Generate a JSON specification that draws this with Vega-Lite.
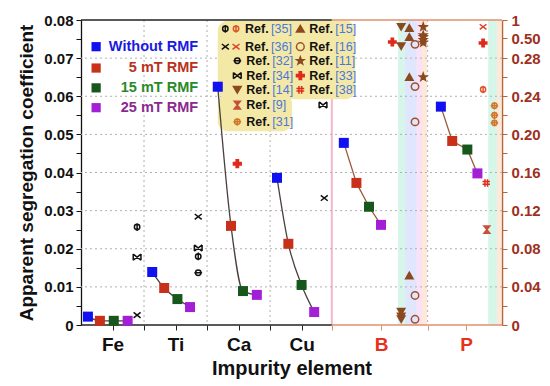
{
  "$schema": "https://vega.github.io/schema/vega-lite/v6.json",
  "width": 421,
  "height": 305,
  "autosize": {"type": "none"},
  "padding": {"left": 81, "top": 20, "right": 48, "bottom": 61},
  "config": {
    "view": {"stroke": null},
    "font": "Liberation Sans"
  },
  "datasets": {
    "sL": [
      {"el": "Fe", "pos": 0.61, "v": 0.0022, "rmf": "0"},
      {"el": "Fe", "pos": 0.80, "v": 0.0011, "rmf": "5"},
      {"el": "Fe", "pos": 1.02, "v": 0.0011, "rmf": "15"},
      {"el": "Fe", "pos": 1.24, "v": 0.0011, "rmf": "25"},
      {"el": "Ti", "pos": 1.63, "v": 0.0139, "rmf": "0"},
      {"el": "Ti", "pos": 1.82, "v": 0.0097, "rmf": "5"},
      {"el": "Ti", "pos": 2.03, "v": 0.0068, "rmf": "15"},
      {"el": "Ti", "pos": 2.23, "v": 0.0047, "rmf": "25"},
      {"el": "Ca", "pos": 2.67, "v": 0.0625, "rmf": "0"},
      {"el": "Ca", "pos": 2.88, "v": 0.026, "rmf": "5"},
      {"el": "Ca", "pos": 3.07, "v": 0.0089, "rmf": "15"},
      {"el": "Ca", "pos": 3.29, "v": 0.0079, "rmf": "25"},
      {"el": "Cu", "pos": 3.61, "v": 0.0386, "rmf": "0"},
      {"el": "Cu", "pos": 3.79, "v": 0.0213, "rmf": "5"},
      {"el": "Cu", "pos": 4.00, "v": 0.0105, "rmf": "15"},
      {"el": "Cu", "pos": 4.20, "v": 0.0034, "rmf": "25"}
    ],
    "sR": [
      {"el": "B", "pos": 4.67, "v": 0.191, "rmf": "0"},
      {"el": "B", "pos": 4.87, "v": 0.149, "rmf": "5"},
      {"el": "B", "pos": 5.07, "v": 0.124, "rmf": "15"},
      {"el": "B", "pos": 5.26, "v": 0.105, "rmf": "25"},
      {"el": "P", "pos": 6.21, "v": 0.229, "rmf": "0"},
      {"el": "P", "pos": 6.39, "v": 0.193, "rmf": "5"},
      {"el": "P", "pos": 6.63, "v": 0.184, "rmf": "15"},
      {"el": "P", "pos": 6.79, "v": 0.159, "rmf": "25"}
    ],
    "rL": [
      {"m": "35k", "pos": 1.39, "v": 0.0257},
      {"m": "34k", "pos": 1.39, "v": 0.0178},
      {"m": "36k", "pos": 1.39, "v": 0.0026},
      {"m": "36k", "pos": 2.36, "v": 0.0284},
      {"m": "34k", "pos": 2.36, "v": 0.0202},
      {"m": "35k", "pos": 2.36, "v": 0.018},
      {"m": "32k", "pos": 2.36, "v": 0.0137},
      {"m": "33", "pos": 2.98, "v": 0.0423},
      {"m": "36k", "pos": 4.36, "v": 0.0333},
      {"m": "34k", "pos": 4.34, "v": 0.0577}
    ],
    "rR": [
      {"m": "14", "pos": 5.58, "v": 0.81},
      {"m": "15", "pos": 5.71, "v": 0.78},
      {"m": "15", "pos": 5.71, "v": 0.53},
      {"m": "33", "pos": 5.44, "v": 0.456},
      {"m": "14", "pos": 5.58, "v": 0.41},
      {"m": "16", "pos": 5.80, "v": 0.43},
      {"m": "11", "pos": 5.93, "v": 0.81},
      {"m": "11", "pos": 5.93, "v": 0.58},
      {"m": "11", "pos": 5.93, "v": 0.53},
      {"m": "11", "pos": 5.93, "v": 0.48},
      {"m": "11", "pos": 5.93, "v": 0.45},
      {"m": "15", "pos": 5.71, "v": 0.26},
      {"m": "11", "pos": 5.93, "v": 0.26},
      {"m": "16", "pos": 5.80, "v": 0.25},
      {"m": "16", "pos": 5.80, "v": 0.213},
      {"m": "15", "pos": 5.71, "v": 0.052},
      {"m": "16", "pos": 5.80, "v": 0.031},
      {"m": "14", "pos": 5.58, "v": 0.014},
      {"m": "14", "pos": 5.58, "v": 0.009},
      {"m": "14", "pos": 5.58, "v": 0.006},
      {"m": "16", "pos": 5.80, "v": 0.006},
      {"m": "36r", "pos": 6.88, "v": 0.81},
      {"m": "33", "pos": 6.88, "v": 0.445},
      {"m": "35r", "pos": 6.88, "v": 0.247},
      {"m": "31", "pos": 7.06, "v": 0.230},
      {"m": "31", "pos": 7.06, "v": 0.220},
      {"m": "31", "pos": 7.06, "v": 0.212},
      {"m": "38", "pos": 6.93, "v": 0.149},
      {"m": "9", "pos": 6.94, "v": 0.10}
    ],
    "bands": [
      {"b": "g", "pos": 5.53, "pos2": 5.64},
      {"b": "bl", "pos": 5.64, "pos2": 5.83},
      {"b": "pk", "pos": 5.83, "pos2": 5.91},
      {"b": "or", "pos": 5.91, "pos2": 5.99},
      {"b": "g", "pos": 6.96, "pos2": 7.10},
      {"b": "or", "pos": 7.10, "pos2": 7.18}
    ],
    "leg": [
      {"rmf": "0", "pos": 0.74, "v": 0.0730, "lab": "Without RMF"},
      {"rmf": "5", "pos": 0.74, "v": 0.0674, "lab": "5 mT RMF"},
      {"rmf": "15", "pos": 0.74, "v": 0.0622, "lab": "15 mT RMF"},
      {"rmf": "25", "pos": 0.74, "v": 0.0570, "lab": "25 mT RMF"}
    ],
    "rlegK": [
      {"m": "35k", "pos": 2.79, "v": 0.0777},
      {"m": "36k", "pos": 2.79, "v": 0.0730}
    ],
    "rleg": [
      {"m": "35r", "pos": 2.96, "v": 0.0777, "lab": "[35]"},
      {"m": "36r", "pos": 2.96, "v": 0.0730, "lab": "[36]"},
      {"m": "32k", "pos": 2.98, "v": 0.0693, "lab": "[32]"},
      {"m": "34k", "pos": 2.98, "v": 0.0654, "lab": "[34]"},
      {"m": "14", "pos": 2.98, "v": 0.0617, "lab": "[14]"},
      {"m": "9", "pos": 2.98, "v": 0.0577, "lab": "[9]"},
      {"m": "31", "pos": 2.98, "v": 0.0533, "lab": "[31]"},
      {"m": "15", "pos": 3.98, "v": 0.0777, "lab": "[15]"},
      {"m": "16", "pos": 3.98, "v": 0.0730, "lab": "[16]"},
      {"m": "11", "pos": 3.98, "v": 0.0693, "lab": "[11]"},
      {"m": "33", "pos": 3.98, "v": 0.0654, "lab": "[33]"},
      {"m": "38", "pos": 3.98, "v": 0.0617, "lab": "[38]"}
    ]
  },
  "resolve": {"scale": {"y": "independent"}},
  "layer": [
    {
      "layer": [
        {
          "data": {"name": "bands"},
          "mark": {"type": "rect", "opacity": 0.6},
          "encoding": {
            "x": {"field": "pos", "type": "quantitative", "scale": {"domain": [0.5, 7.18], "nice": false, "zero": false}, "title": "Impurity element", "axis": {"values": [1, 1.5, 2, 2.5, 3, 3.5, 4, 4.48, 5.26, 6, 6.61], "labelExpr": "datum.value==1 ? 'Fe' : datum.value==2 ? 'Ti' : datum.value==3 ? 'Ca' : datum.value==4 ? 'Cu' : datum.value==5.26 ? 'B' : datum.value==6.61 ? 'P' : ''", "grid": false, "domain": false, "tickSize": 5, "tickColor": {"condition": {"test": "datum.value > 4.4", "value": "#e0906e"}, "value": "#222"}, "labelColor": {"condition": {"test": "datum.value > 5", "value": "#e8301c"}, "value": "#111"}, "labelFontSize": 19, "labelFontWeight": "bold", "labelPadding": 5, "titleFontSize": 20, "titleFontWeight": "bold", "titleColor": "#111", "titlePadding": 4}},
            "x2": {"field": "pos2"},
            "fill": {"field": "b", "type": "nominal", "legend": null, "scale": {"domain": ["35k", "35r", "36k", "36r", "32k", "34k", "14", "9", "31", "15", "16", "11", "33", "38", "g", "bl", "pk", "or", "Without RMF", "5 mT RMF", "15 mT RMF", "25 mT RMF"], "range": ["transparent", "transparent", "transparent", "transparent", "transparent", "transparent", "#8b4a1e", "#c8503a", "transparent", "#8b4a1e", "transparent", "#8b4a1e", "#e02a1a", "transparent", "#bdf0dc", "#cdd6ff", "#f6cdf0", "#fbd9c0", "#1a1adf", "#b8321e", "#2a8a2a", "#8a2a90"]}}
          }
        },
        {
          "data": {"values": [{"pos": 4.48}]},
          "mark": {"type": "rule", "color": "#f4b8c8", "strokeWidth": 2},
          "encoding": {
            "x": {"field": "pos", "type": "quantitative", "scale": {"domain": [0.5, 7.18], "nice": false, "zero": false}, "title": "Impurity element", "axis": {"values": [1, 1.5, 2, 2.5, 3, 3.5, 4, 4.48, 5.26, 6, 6.61], "labelExpr": "datum.value==1 ? 'Fe' : datum.value==2 ? 'Ti' : datum.value==3 ? 'Ca' : datum.value==4 ? 'Cu' : datum.value==5.26 ? 'B' : datum.value==6.61 ? 'P' : ''", "grid": false, "domain": false, "tickSize": 5, "tickColor": {"condition": {"test": "datum.value > 4.4", "value": "#e0906e"}, "value": "#222"}, "labelColor": {"condition": {"test": "datum.value > 5", "value": "#e8301c"}, "value": "#111"}, "labelFontSize": 19, "labelFontWeight": "bold", "labelPadding": 5, "titleFontSize": 20, "titleFontWeight": "bold", "titleColor": "#111", "titlePadding": 4}}
          }
        },
        {
          "data": {"values": [{"pos": 1.5}, {"pos": 2.5}, {"pos": 3.5}, {"pos": 6.0}]},
          "mark": {"type": "rule", "color": "#b0b0b0", "strokeDash": [2, 3], "strokeWidth": 1},
          "encoding": {
            "x": {"field": "pos", "type": "quantitative", "scale": {"domain": [0.5, 7.18], "nice": false, "zero": false}, "title": "Impurity element", "axis": {"values": [1, 1.5, 2, 2.5, 3, 3.5, 4, 4.48, 5.26, 6, 6.61], "labelExpr": "datum.value==1 ? 'Fe' : datum.value==2 ? 'Ti' : datum.value==3 ? 'Ca' : datum.value==4 ? 'Cu' : datum.value==5.26 ? 'B' : datum.value==6.61 ? 'P' : ''", "grid": false, "domain": false, "tickSize": 5, "tickColor": {"condition": {"test": "datum.value > 4.4", "value": "#e0906e"}, "value": "#222"}, "labelColor": {"condition": {"test": "datum.value > 5", "value": "#e8301c"}, "value": "#111"}, "labelFontSize": 19, "labelFontWeight": "bold", "labelPadding": 5, "titleFontSize": 20, "titleFontWeight": "bold", "titleColor": "#111", "titlePadding": 4}}
          }
        },
        {
          "data": {"values": [{"v": 0.01}, {"v": 0.02}, {"v": 0.03}, {"v": 0.04}, {"v": 0.05}, {"v": 0.06}, {"v": 0.07}]},
          "mark": {"type": "rule", "color": "#b0b0b0", "strokeDash": [2, 3], "strokeWidth": 1},
          "encoding": {
            "y": {"field": "v", "type": "quantitative", "scale": {"domain": [0, 0.08], "nice": false, "zero": false}, "title": "Apparent segregation coefficient", "axis": {"values": [0, 0.005, 0.01, 0.015, 0.02, 0.025, 0.03, 0.035, 0.04, 0.045, 0.05, 0.055, 0.06, 0.065, 0.07, 0.075, 0.08], "labelExpr": "abs(datum.value*100-round(datum.value*100))>0.1 ? '' : (datum.value==0 ? '0' : format(datum.value, '.2f'))", "grid": false, "domainColor": "#111", "domainWidth": 1.3, "tickColor": "#111", "tickSize": 5, "labelPadding": 3, "labelFontSize": 15, "labelFontWeight": "bold", "labelColor": "#111", "titleFontSize": 19, "titleFontWeight": "bold", "titleColor": "#111", "titlePadding": 7}}
          }
        },
        {
          "data": {"values": [{"pos": 2.67, "pos2": 4.85, "v": 0.0592, "v2": 0.0798}, {"pos": 2.67, "pos2": 3.85, "v": 0.0508, "v2": 0.0605}]},
          "mark": {"type": "rect", "color": "#f4e8a6", "cornerRadius": 10},
          "encoding": {
            "x": {"field": "pos", "type": "quantitative", "scale": {"domain": [0.5, 7.18], "nice": false, "zero": false}, "title": "Impurity element", "axis": {"values": [1, 1.5, 2, 2.5, 3, 3.5, 4, 4.48, 5.26, 6, 6.61], "labelExpr": "datum.value==1 ? 'Fe' : datum.value==2 ? 'Ti' : datum.value==3 ? 'Ca' : datum.value==4 ? 'Cu' : datum.value==5.26 ? 'B' : datum.value==6.61 ? 'P' : ''", "grid": false, "domain": false, "tickSize": 5, "tickColor": {"condition": {"test": "datum.value > 4.4", "value": "#e0906e"}, "value": "#222"}, "labelColor": {"condition": {"test": "datum.value > 5", "value": "#e8301c"}, "value": "#111"}, "labelFontSize": 19, "labelFontWeight": "bold", "labelPadding": 5, "titleFontSize": 20, "titleFontWeight": "bold", "titleColor": "#111", "titlePadding": 4}},
            "x2": {"field": "pos2"},
            "y": {"field": "v", "type": "quantitative", "scale": {"domain": [0, 0.08], "nice": false, "zero": false}, "title": "Apparent segregation coefficient", "axis": {"values": [0, 0.005, 0.01, 0.015, 0.02, 0.025, 0.03, 0.035, 0.04, 0.045, 0.05, 0.055, 0.06, 0.065, 0.07, 0.075, 0.08], "labelExpr": "abs(datum.value*100-round(datum.value*100))>0.1 ? '' : (datum.value==0 ? '0' : format(datum.value, '.2f'))", "grid": false, "domainColor": "#111", "domainWidth": 1.3, "tickColor": "#111", "tickSize": 5, "labelPadding": 3, "labelFontSize": 15, "labelFontWeight": "bold", "labelColor": "#111", "titleFontSize": 19, "titleFontWeight": "bold", "titleColor": "#111", "titlePadding": 7}},
            "y2": {"field": "v2"}
          }
        },
        {
          "data": {"values": [{"pos": 0.5, "pos2": 4.48, "v": 0.08}, {"pos": 0.5, "pos2": 4.48, "v": 0}]},
          "mark": {"type": "rule", "color": "#222", "strokeWidth": 1.3},
          "encoding": {
            "x": {"field": "pos", "type": "quantitative", "scale": {"domain": [0.5, 7.18], "nice": false, "zero": false}, "title": "Impurity element", "axis": {"values": [1, 1.5, 2, 2.5, 3, 3.5, 4, 4.48, 5.26, 6, 6.61], "labelExpr": "datum.value==1 ? 'Fe' : datum.value==2 ? 'Ti' : datum.value==3 ? 'Ca' : datum.value==4 ? 'Cu' : datum.value==5.26 ? 'B' : datum.value==6.61 ? 'P' : ''", "grid": false, "domain": false, "tickSize": 5, "tickColor": {"condition": {"test": "datum.value > 4.4", "value": "#e0906e"}, "value": "#222"}, "labelColor": {"condition": {"test": "datum.value > 5", "value": "#e8301c"}, "value": "#111"}, "labelFontSize": 19, "labelFontWeight": "bold", "labelPadding": 5, "titleFontSize": 20, "titleFontWeight": "bold", "titleColor": "#111", "titlePadding": 4}},
            "x2": {"field": "pos2"},
            "y": {"field": "v", "type": "quantitative", "scale": {"domain": [0, 0.08], "nice": false, "zero": false}, "title": "Apparent segregation coefficient", "axis": {"values": [0, 0.005, 0.01, 0.015, 0.02, 0.025, 0.03, 0.035, 0.04, 0.045, 0.05, 0.055, 0.06, 0.065, 0.07, 0.075, 0.08], "labelExpr": "abs(datum.value*100-round(datum.value*100))>0.1 ? '' : (datum.value==0 ? '0' : format(datum.value, '.2f'))", "grid": false, "domainColor": "#111", "domainWidth": 1.3, "tickColor": "#111", "tickSize": 5, "labelPadding": 3, "labelFontSize": 15, "labelFontWeight": "bold", "labelColor": "#111", "titleFontSize": 19, "titleFontWeight": "bold", "titleColor": "#111", "titlePadding": 7}}
          }
        },
        {
          "data": {"values": [{"pos": 4.48, "pos2": 7.18, "v": 0.08}, {"pos": 4.48, "pos2": 7.18, "v": 0}]},
          "mark": {"type": "rule", "color": "#e0906e", "strokeWidth": 1.5},
          "encoding": {
            "x": {"field": "pos", "type": "quantitative", "scale": {"domain": [0.5, 7.18], "nice": false, "zero": false}, "title": "Impurity element", "axis": {"values": [1, 1.5, 2, 2.5, 3, 3.5, 4, 4.48, 5.26, 6, 6.61], "labelExpr": "datum.value==1 ? 'Fe' : datum.value==2 ? 'Ti' : datum.value==3 ? 'Ca' : datum.value==4 ? 'Cu' : datum.value==5.26 ? 'B' : datum.value==6.61 ? 'P' : ''", "grid": false, "domain": false, "tickSize": 5, "tickColor": {"condition": {"test": "datum.value > 4.4", "value": "#e0906e"}, "value": "#222"}, "labelColor": {"condition": {"test": "datum.value > 5", "value": "#e8301c"}, "value": "#111"}, "labelFontSize": 19, "labelFontWeight": "bold", "labelPadding": 5, "titleFontSize": 20, "titleFontWeight": "bold", "titleColor": "#111", "titlePadding": 4}},
            "x2": {"field": "pos2"},
            "y": {"field": "v", "type": "quantitative", "scale": {"domain": [0, 0.08], "nice": false, "zero": false}, "title": "Apparent segregation coefficient", "axis": {"values": [0, 0.005, 0.01, 0.015, 0.02, 0.025, 0.03, 0.035, 0.04, 0.045, 0.05, 0.055, 0.06, 0.065, 0.07, 0.075, 0.08], "labelExpr": "abs(datum.value*100-round(datum.value*100))>0.1 ? '' : (datum.value==0 ? '0' : format(datum.value, '.2f'))", "grid": false, "domainColor": "#111", "domainWidth": 1.3, "tickColor": "#111", "tickSize": 5, "labelPadding": 3, "labelFontSize": 15, "labelFontWeight": "bold", "labelColor": "#111", "titleFontSize": 19, "titleFontWeight": "bold", "titleColor": "#111", "titlePadding": 7}}
          }
        },
        {
          "data": {"name": "sL"},
          "mark": {"type": "line", "color": "#4a4040", "strokeWidth": 1.3, "interpolate": "monotone"},
          "encoding": {
            "x": {"field": "pos", "type": "quantitative", "scale": {"domain": [0.5, 7.18], "nice": false, "zero": false}, "title": "Impurity element", "axis": {"values": [1, 1.5, 2, 2.5, 3, 3.5, 4, 4.48, 5.26, 6, 6.61], "labelExpr": "datum.value==1 ? 'Fe' : datum.value==2 ? 'Ti' : datum.value==3 ? 'Ca' : datum.value==4 ? 'Cu' : datum.value==5.26 ? 'B' : datum.value==6.61 ? 'P' : ''", "grid": false, "domain": false, "tickSize": 5, "tickColor": {"condition": {"test": "datum.value > 4.4", "value": "#e0906e"}, "value": "#222"}, "labelColor": {"condition": {"test": "datum.value > 5", "value": "#e8301c"}, "value": "#111"}, "labelFontSize": 19, "labelFontWeight": "bold", "labelPadding": 5, "titleFontSize": 20, "titleFontWeight": "bold", "titleColor": "#111", "titlePadding": 4}},
            "y": {"field": "v", "type": "quantitative", "scale": {"domain": [0, 0.08], "nice": false, "zero": false}, "title": "Apparent segregation coefficient", "axis": {"values": [0, 0.005, 0.01, 0.015, 0.02, 0.025, 0.03, 0.035, 0.04, 0.045, 0.05, 0.055, 0.06, 0.065, 0.07, 0.075, 0.08], "labelExpr": "abs(datum.value*100-round(datum.value*100))>0.1 ? '' : (datum.value==0 ? '0' : format(datum.value, '.2f'))", "grid": false, "domainColor": "#111", "domainWidth": 1.3, "tickColor": "#111", "tickSize": 5, "labelPadding": 3, "labelFontSize": 15, "labelFontWeight": "bold", "labelColor": "#111", "titleFontSize": 19, "titleFontWeight": "bold", "titleColor": "#111", "titlePadding": 7}},
            "detail": {"field": "el", "type": "nominal"}
          }
        },
        {
          "data": {"name": "sL"},
          "mark": {"type": "square", "filled": true, "size": 100, "opacity": 1},
          "encoding": {
            "x": {"field": "pos", "type": "quantitative", "scale": {"domain": [0.5, 7.18], "nice": false, "zero": false}, "title": "Impurity element", "axis": {"values": [1, 1.5, 2, 2.5, 3, 3.5, 4, 4.48, 5.26, 6, 6.61], "labelExpr": "datum.value==1 ? 'Fe' : datum.value==2 ? 'Ti' : datum.value==3 ? 'Ca' : datum.value==4 ? 'Cu' : datum.value==5.26 ? 'B' : datum.value==6.61 ? 'P' : ''", "grid": false, "domain": false, "tickSize": 5, "tickColor": {"condition": {"test": "datum.value > 4.4", "value": "#e0906e"}, "value": "#222"}, "labelColor": {"condition": {"test": "datum.value > 5", "value": "#e8301c"}, "value": "#111"}, "labelFontSize": 19, "labelFontWeight": "bold", "labelPadding": 5, "titleFontSize": 20, "titleFontWeight": "bold", "titleColor": "#111", "titlePadding": 4}},
            "y": {"field": "v", "type": "quantitative", "scale": {"domain": [0, 0.08], "nice": false, "zero": false}, "title": "Apparent segregation coefficient", "axis": {"values": [0, 0.005, 0.01, 0.015, 0.02, 0.025, 0.03, 0.035, 0.04, 0.045, 0.05, 0.055, 0.06, 0.065, 0.07, 0.075, 0.08], "labelExpr": "abs(datum.value*100-round(datum.value*100))>0.1 ? '' : (datum.value==0 ? '0' : format(datum.value, '.2f'))", "grid": false, "domainColor": "#111", "domainWidth": 1.3, "tickColor": "#111", "tickSize": 5, "labelPadding": 3, "labelFontSize": 15, "labelFontWeight": "bold", "labelColor": "#111", "titleFontSize": 19, "titleFontWeight": "bold", "titleColor": "#111", "titlePadding": 7}},
            "color": {"field": "rmf", "type": "nominal", "legend": null, "scale": {"domain": ["0", "5", "15", "25"], "range": ["#1010f0", "#c8301a", "#17571b", "#a31fd6"]}}
          }
        },
        {
          "data": {"name": "rL"},
          "mark": {"type": "point", "filled": false, "size": 60, "strokeWidth": 1.5, "opacity": 1},
          "encoding": {
            "x": {"field": "pos", "type": "quantitative", "scale": {"domain": [0.5, 7.18], "nice": false, "zero": false}, "title": "Impurity element", "axis": {"values": [1, 1.5, 2, 2.5, 3, 3.5, 4, 4.48, 5.26, 6, 6.61], "labelExpr": "datum.value==1 ? 'Fe' : datum.value==2 ? 'Ti' : datum.value==3 ? 'Ca' : datum.value==4 ? 'Cu' : datum.value==5.26 ? 'B' : datum.value==6.61 ? 'P' : ''", "grid": false, "domain": false, "tickSize": 5, "tickColor": {"condition": {"test": "datum.value > 4.4", "value": "#e0906e"}, "value": "#222"}, "labelColor": {"condition": {"test": "datum.value > 5", "value": "#e8301c"}, "value": "#111"}, "labelFontSize": 19, "labelFontWeight": "bold", "labelPadding": 5, "titleFontSize": 20, "titleFontWeight": "bold", "titleColor": "#111", "titlePadding": 4}},
            "y": {"field": "v", "type": "quantitative", "scale": {"domain": [0, 0.08], "nice": false, "zero": false}, "title": "Apparent segregation coefficient", "axis": {"values": [0, 0.005, 0.01, 0.015, 0.02, 0.025, 0.03, 0.035, 0.04, 0.045, 0.05, 0.055, 0.06, 0.065, 0.07, 0.075, 0.08], "labelExpr": "abs(datum.value*100-round(datum.value*100))>0.1 ? '' : (datum.value==0 ? '0' : format(datum.value, '.2f'))", "grid": false, "domainColor": "#111", "domainWidth": 1.3, "tickColor": "#111", "tickSize": 5, "labelPadding": 3, "labelFontSize": 15, "labelFontWeight": "bold", "labelColor": "#111", "titleFontSize": 19, "titleFontWeight": "bold", "titleColor": "#111", "titlePadding": 7}},
            "shape": {"field": "m", "type": "nominal", "legend": null, "scale": {"domain": ["35k", "35r", "36k", "36r", "32k", "34k", "14", "9", "31", "15", "16", "11", "33", "38"], "range": ["M-0.7,0A0.7,0.7 0 1,1 0.7,0A0.7,0.7 0 1,1 -0.7,0ZM0,-1L0,1", "M-0.7,0A0.7,0.7 0 1,1 0.7,0A0.7,0.7 0 1,1 -0.7,0ZM0,-1L0,1", "M-0.9,-0.7L0.9,0.7M-0.9,0.7L0.9,-0.7", "M-0.9,-0.7L0.9,0.7M-0.9,0.7L0.9,-0.7", "M-0.7,0A0.7,0.7 0 1,1 0.7,0A0.7,0.7 0 1,1 -0.7,0ZM-1,0L1,0", "M-1,-0.8L1,0.8M-1,0.8L1,-0.8M-1,-0.8L-1,0.8M1,-0.8L1,0.8", "triangle-down", "M-0.8,-1L0.8,-1L0,0ZM-0.8,1L0.8,1L0,0Z", "M-0.7,0A0.7,0.7 0 1,1 0.7,0A0.7,0.7 0 1,1 -0.7,0ZM-1,0L1,0M0,-1L0,1", "triangle-up", "circle", "M0,-1L0.235,-0.324L0.951,-0.309L0.38,0.124L0.588,0.809L0,0.4L-0.588,0.809L-0.38,0.124L-0.951,-0.309L-0.235,-0.324Z", "M-0.3,-1L0.3,-1L0.3,-0.3L1,-0.3L1,0.3L0.3,0.3L0.3,1L-0.3,1L-0.3,0.3L-1,0.3L-1,-0.3L-0.3,-0.3Z", "M-1,-0.35L1,-0.35M-1,0.35L1,0.35M-0.35,-1L-0.35,1M0.35,-1L0.35,1"]}},
            "stroke": {"field": "m", "type": "nominal", "legend": null, "scale": {"domain": ["35k", "35r", "36k", "36r", "32k", "34k", "14", "9", "31", "15", "16", "11", "33", "38"], "range": ["#111", "#e0552a", "#111", "#e0402a", "#111", "#111", "#8b4a1e", "#c8503a", "#d2782a", "#8b4a1e", "#a0522d", "#8b4a1e", "#e02a1a", "#e02a1a"]}},
            "fill": {"field": "m", "type": "nominal", "legend": null, "scale": {"domain": ["35k", "35r", "36k", "36r", "32k", "34k", "14", "9", "31", "15", "16", "11", "33", "38", "g", "bl", "pk", "or", "Without RMF", "5 mT RMF", "15 mT RMF", "25 mT RMF"], "range": ["transparent", "transparent", "transparent", "transparent", "transparent", "transparent", "#8b4a1e", "#c8503a", "transparent", "#8b4a1e", "transparent", "#8b4a1e", "#e02a1a", "transparent", "#bdf0dc", "#cdd6ff", "#f6cdf0", "#fbd9c0", "#1a1adf", "#b8321e", "#2a8a2a", "#8a2a90"]}}
          }
        },
        {
          "data": {"name": "leg"},
          "mark": {"type": "square", "filled": true, "size": 85, "opacity": 1},
          "encoding": {
            "x": {"field": "pos", "type": "quantitative", "scale": {"domain": [0.5, 7.18], "nice": false, "zero": false}, "title": "Impurity element", "axis": {"values": [1, 1.5, 2, 2.5, 3, 3.5, 4, 4.48, 5.26, 6, 6.61], "labelExpr": "datum.value==1 ? 'Fe' : datum.value==2 ? 'Ti' : datum.value==3 ? 'Ca' : datum.value==4 ? 'Cu' : datum.value==5.26 ? 'B' : datum.value==6.61 ? 'P' : ''", "grid": false, "domain": false, "tickSize": 5, "tickColor": {"condition": {"test": "datum.value > 4.4", "value": "#e0906e"}, "value": "#222"}, "labelColor": {"condition": {"test": "datum.value > 5", "value": "#e8301c"}, "value": "#111"}, "labelFontSize": 19, "labelFontWeight": "bold", "labelPadding": 5, "titleFontSize": 20, "titleFontWeight": "bold", "titleColor": "#111", "titlePadding": 4}},
            "y": {"field": "v", "type": "quantitative", "scale": {"domain": [0, 0.08], "nice": false, "zero": false}, "title": "Apparent segregation coefficient", "axis": {"values": [0, 0.005, 0.01, 0.015, 0.02, 0.025, 0.03, 0.035, 0.04, 0.045, 0.05, 0.055, 0.06, 0.065, 0.07, 0.075, 0.08], "labelExpr": "abs(datum.value*100-round(datum.value*100))>0.1 ? '' : (datum.value==0 ? '0' : format(datum.value, '.2f'))", "grid": false, "domainColor": "#111", "domainWidth": 1.3, "tickColor": "#111", "tickSize": 5, "labelPadding": 3, "labelFontSize": 15, "labelFontWeight": "bold", "labelColor": "#111", "titleFontSize": 19, "titleFontWeight": "bold", "titleColor": "#111", "titlePadding": 7}},
            "color": {"field": "rmf", "type": "nominal", "legend": null, "scale": {"domain": ["0", "5", "15", "25"], "range": ["#1010f0", "#c8301a", "#17571b", "#a31fd6"]}}
          }
        },
        {
          "data": {"name": "leg"},
          "mark": {"type": "text", "align": "right", "baseline": "middle", "dx": 102, "fontSize": 14.5, "fontWeight": "bold"},
          "encoding": {
            "x": {"field": "pos", "type": "quantitative", "scale": {"domain": [0.5, 7.18], "nice": false, "zero": false}, "title": "Impurity element", "axis": {"values": [1, 1.5, 2, 2.5, 3, 3.5, 4, 4.48, 5.26, 6, 6.61], "labelExpr": "datum.value==1 ? 'Fe' : datum.value==2 ? 'Ti' : datum.value==3 ? 'Ca' : datum.value==4 ? 'Cu' : datum.value==5.26 ? 'B' : datum.value==6.61 ? 'P' : ''", "grid": false, "domain": false, "tickSize": 5, "tickColor": {"condition": {"test": "datum.value > 4.4", "value": "#e0906e"}, "value": "#222"}, "labelColor": {"condition": {"test": "datum.value > 5", "value": "#e8301c"}, "value": "#111"}, "labelFontSize": 19, "labelFontWeight": "bold", "labelPadding": 5, "titleFontSize": 20, "titleFontWeight": "bold", "titleColor": "#111", "titlePadding": 4}},
            "y": {"field": "v", "type": "quantitative", "scale": {"domain": [0, 0.08], "nice": false, "zero": false}, "title": "Apparent segregation coefficient", "axis": {"values": [0, 0.005, 0.01, 0.015, 0.02, 0.025, 0.03, 0.035, 0.04, 0.045, 0.05, 0.055, 0.06, 0.065, 0.07, 0.075, 0.08], "labelExpr": "abs(datum.value*100-round(datum.value*100))>0.1 ? '' : (datum.value==0 ? '0' : format(datum.value, '.2f'))", "grid": false, "domainColor": "#111", "domainWidth": 1.3, "tickColor": "#111", "tickSize": 5, "labelPadding": 3, "labelFontSize": 15, "labelFontWeight": "bold", "labelColor": "#111", "titleFontSize": 19, "titleFontWeight": "bold", "titleColor": "#111", "titlePadding": 7}},
            "text": {"field": "lab"},
            "fill": {"field": "lab", "type": "nominal", "legend": null, "scale": {"domain": ["35k", "35r", "36k", "36r", "32k", "34k", "14", "9", "31", "15", "16", "11", "33", "38", "g", "bl", "pk", "or", "Without RMF", "5 mT RMF", "15 mT RMF", "25 mT RMF"], "range": ["transparent", "transparent", "transparent", "transparent", "transparent", "transparent", "#8b4a1e", "#c8503a", "transparent", "#8b4a1e", "transparent", "#8b4a1e", "#e02a1a", "transparent", "#bdf0dc", "#cdd6ff", "#f6cdf0", "#fbd9c0", "#1a1adf", "#b8321e", "#2a8a2a", "#8a2a90"]}}
          }
        },
        {
          "data": {"name": "rlegK"},
          "mark": {"type": "point", "filled": false, "size": 60, "strokeWidth": 1.5, "opacity": 1},
          "encoding": {
            "x": {"field": "pos", "type": "quantitative", "scale": {"domain": [0.5, 7.18], "nice": false, "zero": false}, "title": "Impurity element", "axis": {"values": [1, 1.5, 2, 2.5, 3, 3.5, 4, 4.48, 5.26, 6, 6.61], "labelExpr": "datum.value==1 ? 'Fe' : datum.value==2 ? 'Ti' : datum.value==3 ? 'Ca' : datum.value==4 ? 'Cu' : datum.value==5.26 ? 'B' : datum.value==6.61 ? 'P' : ''", "grid": false, "domain": false, "tickSize": 5, "tickColor": {"condition": {"test": "datum.value > 4.4", "value": "#e0906e"}, "value": "#222"}, "labelColor": {"condition": {"test": "datum.value > 5", "value": "#e8301c"}, "value": "#111"}, "labelFontSize": 19, "labelFontWeight": "bold", "labelPadding": 5, "titleFontSize": 20, "titleFontWeight": "bold", "titleColor": "#111", "titlePadding": 4}},
            "y": {"field": "v", "type": "quantitative", "scale": {"domain": [0, 0.08], "nice": false, "zero": false}, "title": "Apparent segregation coefficient", "axis": {"values": [0, 0.005, 0.01, 0.015, 0.02, 0.025, 0.03, 0.035, 0.04, 0.045, 0.05, 0.055, 0.06, 0.065, 0.07, 0.075, 0.08], "labelExpr": "abs(datum.value*100-round(datum.value*100))>0.1 ? '' : (datum.value==0 ? '0' : format(datum.value, '.2f'))", "grid": false, "domainColor": "#111", "domainWidth": 1.3, "tickColor": "#111", "tickSize": 5, "labelPadding": 3, "labelFontSize": 15, "labelFontWeight": "bold", "labelColor": "#111", "titleFontSize": 19, "titleFontWeight": "bold", "titleColor": "#111", "titlePadding": 7}},
            "shape": {"field": "m", "type": "nominal", "legend": null, "scale": {"domain": ["35k", "35r", "36k", "36r", "32k", "34k", "14", "9", "31", "15", "16", "11", "33", "38"], "range": ["M-0.7,0A0.7,0.7 0 1,1 0.7,0A0.7,0.7 0 1,1 -0.7,0ZM0,-1L0,1", "M-0.7,0A0.7,0.7 0 1,1 0.7,0A0.7,0.7 0 1,1 -0.7,0ZM0,-1L0,1", "M-0.9,-0.7L0.9,0.7M-0.9,0.7L0.9,-0.7", "M-0.9,-0.7L0.9,0.7M-0.9,0.7L0.9,-0.7", "M-0.7,0A0.7,0.7 0 1,1 0.7,0A0.7,0.7 0 1,1 -0.7,0ZM-1,0L1,0", "M-1,-0.8L1,0.8M-1,0.8L1,-0.8M-1,-0.8L-1,0.8M1,-0.8L1,0.8", "triangle-down", "M-0.8,-1L0.8,-1L0,0ZM-0.8,1L0.8,1L0,0Z", "M-0.7,0A0.7,0.7 0 1,1 0.7,0A0.7,0.7 0 1,1 -0.7,0ZM-1,0L1,0M0,-1L0,1", "triangle-up", "circle", "M0,-1L0.235,-0.324L0.951,-0.309L0.38,0.124L0.588,0.809L0,0.4L-0.588,0.809L-0.38,0.124L-0.951,-0.309L-0.235,-0.324Z", "M-0.3,-1L0.3,-1L0.3,-0.3L1,-0.3L1,0.3L0.3,0.3L0.3,1L-0.3,1L-0.3,0.3L-1,0.3L-1,-0.3L-0.3,-0.3Z", "M-1,-0.35L1,-0.35M-1,0.35L1,0.35M-0.35,-1L-0.35,1M0.35,-1L0.35,1"]}},
            "stroke": {"field": "m", "type": "nominal", "legend": null, "scale": {"domain": ["35k", "35r", "36k", "36r", "32k", "34k", "14", "9", "31", "15", "16", "11", "33", "38"], "range": ["#111", "#e0552a", "#111", "#e0402a", "#111", "#111", "#8b4a1e", "#c8503a", "#d2782a", "#8b4a1e", "#a0522d", "#8b4a1e", "#e02a1a", "#e02a1a"]}},
            "fill": {"field": "m", "type": "nominal", "legend": null, "scale": {"domain": ["35k", "35r", "36k", "36r", "32k", "34k", "14", "9", "31", "15", "16", "11", "33", "38", "g", "bl", "pk", "or", "Without RMF", "5 mT RMF", "15 mT RMF", "25 mT RMF"], "range": ["transparent", "transparent", "transparent", "transparent", "transparent", "transparent", "#8b4a1e", "#c8503a", "transparent", "#8b4a1e", "transparent", "#8b4a1e", "#e02a1a", "transparent", "#bdf0dc", "#cdd6ff", "#f6cdf0", "#fbd9c0", "#1a1adf", "#b8321e", "#2a8a2a", "#8a2a90"]}}
          }
        },
        {
          "data": {"name": "rleg"},
          "mark": {"type": "point", "filled": false, "size": 60, "strokeWidth": 1.5, "opacity": 1},
          "encoding": {
            "x": {"field": "pos", "type": "quantitative", "scale": {"domain": [0.5, 7.18], "nice": false, "zero": false}, "title": "Impurity element", "axis": {"values": [1, 1.5, 2, 2.5, 3, 3.5, 4, 4.48, 5.26, 6, 6.61], "labelExpr": "datum.value==1 ? 'Fe' : datum.value==2 ? 'Ti' : datum.value==3 ? 'Ca' : datum.value==4 ? 'Cu' : datum.value==5.26 ? 'B' : datum.value==6.61 ? 'P' : ''", "grid": false, "domain": false, "tickSize": 5, "tickColor": {"condition": {"test": "datum.value > 4.4", "value": "#e0906e"}, "value": "#222"}, "labelColor": {"condition": {"test": "datum.value > 5", "value": "#e8301c"}, "value": "#111"}, "labelFontSize": 19, "labelFontWeight": "bold", "labelPadding": 5, "titleFontSize": 20, "titleFontWeight": "bold", "titleColor": "#111", "titlePadding": 4}},
            "y": {"field": "v", "type": "quantitative", "scale": {"domain": [0, 0.08], "nice": false, "zero": false}, "title": "Apparent segregation coefficient", "axis": {"values": [0, 0.005, 0.01, 0.015, 0.02, 0.025, 0.03, 0.035, 0.04, 0.045, 0.05, 0.055, 0.06, 0.065, 0.07, 0.075, 0.08], "labelExpr": "abs(datum.value*100-round(datum.value*100))>0.1 ? '' : (datum.value==0 ? '0' : format(datum.value, '.2f'))", "grid": false, "domainColor": "#111", "domainWidth": 1.3, "tickColor": "#111", "tickSize": 5, "labelPadding": 3, "labelFontSize": 15, "labelFontWeight": "bold", "labelColor": "#111", "titleFontSize": 19, "titleFontWeight": "bold", "titleColor": "#111", "titlePadding": 7}},
            "shape": {"field": "m", "type": "nominal", "legend": null, "scale": {"domain": ["35k", "35r", "36k", "36r", "32k", "34k", "14", "9", "31", "15", "16", "11", "33", "38"], "range": ["M-0.7,0A0.7,0.7 0 1,1 0.7,0A0.7,0.7 0 1,1 -0.7,0ZM0,-1L0,1", "M-0.7,0A0.7,0.7 0 1,1 0.7,0A0.7,0.7 0 1,1 -0.7,0ZM0,-1L0,1", "M-0.9,-0.7L0.9,0.7M-0.9,0.7L0.9,-0.7", "M-0.9,-0.7L0.9,0.7M-0.9,0.7L0.9,-0.7", "M-0.7,0A0.7,0.7 0 1,1 0.7,0A0.7,0.7 0 1,1 -0.7,0ZM-1,0L1,0", "M-1,-0.8L1,0.8M-1,0.8L1,-0.8M-1,-0.8L-1,0.8M1,-0.8L1,0.8", "triangle-down", "M-0.8,-1L0.8,-1L0,0ZM-0.8,1L0.8,1L0,0Z", "M-0.7,0A0.7,0.7 0 1,1 0.7,0A0.7,0.7 0 1,1 -0.7,0ZM-1,0L1,0M0,-1L0,1", "triangle-up", "circle", "M0,-1L0.235,-0.324L0.951,-0.309L0.38,0.124L0.588,0.809L0,0.4L-0.588,0.809L-0.38,0.124L-0.951,-0.309L-0.235,-0.324Z", "M-0.3,-1L0.3,-1L0.3,-0.3L1,-0.3L1,0.3L0.3,0.3L0.3,1L-0.3,1L-0.3,0.3L-1,0.3L-1,-0.3L-0.3,-0.3Z", "M-1,-0.35L1,-0.35M-1,0.35L1,0.35M-0.35,-1L-0.35,1M0.35,-1L0.35,1"]}},
            "stroke": {"field": "m", "type": "nominal", "legend": null, "scale": {"domain": ["35k", "35r", "36k", "36r", "32k", "34k", "14", "9", "31", "15", "16", "11", "33", "38"], "range": ["#111", "#e0552a", "#111", "#e0402a", "#111", "#111", "#8b4a1e", "#c8503a", "#d2782a", "#8b4a1e", "#a0522d", "#8b4a1e", "#e02a1a", "#e02a1a"]}},
            "fill": {"field": "m", "type": "nominal", "legend": null, "scale": {"domain": ["35k", "35r", "36k", "36r", "32k", "34k", "14", "9", "31", "15", "16", "11", "33", "38", "g", "bl", "pk", "or", "Without RMF", "5 mT RMF", "15 mT RMF", "25 mT RMF"], "range": ["transparent", "transparent", "transparent", "transparent", "transparent", "transparent", "#8b4a1e", "#c8503a", "transparent", "#8b4a1e", "transparent", "#8b4a1e", "#e02a1a", "transparent", "#bdf0dc", "#cdd6ff", "#f6cdf0", "#fbd9c0", "#1a1adf", "#b8321e", "#2a8a2a", "#8a2a90"]}}
          }
        },
        {
          "data": {"name": "rleg"},
          "mark": {"type": "text", "align": "left", "baseline": "middle", "dx": 9, "fontSize": 12.5, "fontWeight": "bold", "color": "#111"},
          "encoding": {
            "x": {"field": "pos", "type": "quantitative", "scale": {"domain": [0.5, 7.18], "nice": false, "zero": false}, "title": "Impurity element", "axis": {"values": [1, 1.5, 2, 2.5, 3, 3.5, 4, 4.48, 5.26, 6, 6.61], "labelExpr": "datum.value==1 ? 'Fe' : datum.value==2 ? 'Ti' : datum.value==3 ? 'Ca' : datum.value==4 ? 'Cu' : datum.value==5.26 ? 'B' : datum.value==6.61 ? 'P' : ''", "grid": false, "domain": false, "tickSize": 5, "tickColor": {"condition": {"test": "datum.value > 4.4", "value": "#e0906e"}, "value": "#222"}, "labelColor": {"condition": {"test": "datum.value > 5", "value": "#e8301c"}, "value": "#111"}, "labelFontSize": 19, "labelFontWeight": "bold", "labelPadding": 5, "titleFontSize": 20, "titleFontWeight": "bold", "titleColor": "#111", "titlePadding": 4}},
            "y": {"field": "v", "type": "quantitative", "scale": {"domain": [0, 0.08], "nice": false, "zero": false}, "title": "Apparent segregation coefficient", "axis": {"values": [0, 0.005, 0.01, 0.015, 0.02, 0.025, 0.03, 0.035, 0.04, 0.045, 0.05, 0.055, 0.06, 0.065, 0.07, 0.075, 0.08], "labelExpr": "abs(datum.value*100-round(datum.value*100))>0.1 ? '' : (datum.value==0 ? '0' : format(datum.value, '.2f'))", "grid": false, "domainColor": "#111", "domainWidth": 1.3, "tickColor": "#111", "tickSize": 5, "labelPadding": 3, "labelFontSize": 15, "labelFontWeight": "bold", "labelColor": "#111", "titleFontSize": 19, "titleFontWeight": "bold", "titleColor": "#111", "titlePadding": 7}},
            "text": {"value": "Ref."}
          }
        },
        {
          "data": {"name": "rleg"},
          "mark": {"type": "text", "align": "left", "baseline": "middle", "dx": 35, "fontSize": 12.5, "color": "#4a78d8"},
          "encoding": {
            "x": {"field": "pos", "type": "quantitative", "scale": {"domain": [0.5, 7.18], "nice": false, "zero": false}, "title": "Impurity element", "axis": {"values": [1, 1.5, 2, 2.5, 3, 3.5, 4, 4.48, 5.26, 6, 6.61], "labelExpr": "datum.value==1 ? 'Fe' : datum.value==2 ? 'Ti' : datum.value==3 ? 'Ca' : datum.value==4 ? 'Cu' : datum.value==5.26 ? 'B' : datum.value==6.61 ? 'P' : ''", "grid": false, "domain": false, "tickSize": 5, "tickColor": {"condition": {"test": "datum.value > 4.4", "value": "#e0906e"}, "value": "#222"}, "labelColor": {"condition": {"test": "datum.value > 5", "value": "#e8301c"}, "value": "#111"}, "labelFontSize": 19, "labelFontWeight": "bold", "labelPadding": 5, "titleFontSize": 20, "titleFontWeight": "bold", "titleColor": "#111", "titlePadding": 4}},
            "y": {"field": "v", "type": "quantitative", "scale": {"domain": [0, 0.08], "nice": false, "zero": false}, "title": "Apparent segregation coefficient", "axis": {"values": [0, 0.005, 0.01, 0.015, 0.02, 0.025, 0.03, 0.035, 0.04, 0.045, 0.05, 0.055, 0.06, 0.065, 0.07, 0.075, 0.08], "labelExpr": "abs(datum.value*100-round(datum.value*100))>0.1 ? '' : (datum.value==0 ? '0' : format(datum.value, '.2f'))", "grid": false, "domainColor": "#111", "domainWidth": 1.3, "tickColor": "#111", "tickSize": 5, "labelPadding": 3, "labelFontSize": 15, "labelFontWeight": "bold", "labelColor": "#111", "titleFontSize": 19, "titleFontWeight": "bold", "titleColor": "#111", "titlePadding": 7}},
            "text": {"field": "lab"}
          }
        }
      ]
    },
    {
      "layer": [
        {
          "data": {"name": "sR"},
          "mark": {"type": "line", "color": "#9a5a3a", "strokeWidth": 1.3},
          "encoding": {
            "x": {"field": "pos", "type": "quantitative", "scale": {"domain": [0.5, 7.18], "nice": false, "zero": false}, "title": "Impurity element", "axis": {"values": [1, 1.5, 2, 2.5, 3, 3.5, 4, 4.48, 5.26, 6, 6.61], "labelExpr": "datum.value==1 ? 'Fe' : datum.value==2 ? 'Ti' : datum.value==3 ? 'Ca' : datum.value==4 ? 'Cu' : datum.value==5.26 ? 'B' : datum.value==6.61 ? 'P' : ''", "grid": false, "domain": false, "tickSize": 5, "tickColor": {"condition": {"test": "datum.value > 4.4", "value": "#e0906e"}, "value": "#222"}, "labelColor": {"condition": {"test": "datum.value > 5", "value": "#e8301c"}, "value": "#111"}, "labelFontSize": 19, "labelFontWeight": "bold", "labelPadding": 5, "titleFontSize": 20, "titleFontWeight": "bold", "titleColor": "#111", "titlePadding": 4}},
            "y": {"field": "v", "type": "quantitative", "scale": {"domain": [0, 0.28, 0.5, 1], "range": [305, 38, 18, 0], "nice": false, "zero": false}, "axis": {"orient": "right", "title": null, "values": [0, 0.02, 0.04, 0.06, 0.08, 0.1, 0.12, 0.14, 0.16, 0.18, 0.2, 0.22, 0.24, 0.26, 0.28, 0.5, 1], "labelExpr": "datum.value==1 ? '1' : datum.value==0 ? '0' : datum.value==0.5 ? '0.50' : (round(datum.value*100)%4 != 0 ? '' : format(datum.value, '.2f'))", "grid": false, "domainColor": "#b5653a", "domainWidth": 1.5, "tickColor": "#b5653a", "tickSize": 5, "labelPadding": 4, "labelFontSize": 15, "labelFontWeight": "bold", "labelColor": "#a0301e"}},
            "detail": {"field": "el", "type": "nominal"}
          }
        },
        {
          "data": {"name": "sR"},
          "mark": {"type": "square", "filled": true, "size": 100, "opacity": 1},
          "encoding": {
            "x": {"field": "pos", "type": "quantitative", "scale": {"domain": [0.5, 7.18], "nice": false, "zero": false}, "title": "Impurity element", "axis": {"values": [1, 1.5, 2, 2.5, 3, 3.5, 4, 4.48, 5.26, 6, 6.61], "labelExpr": "datum.value==1 ? 'Fe' : datum.value==2 ? 'Ti' : datum.value==3 ? 'Ca' : datum.value==4 ? 'Cu' : datum.value==5.26 ? 'B' : datum.value==6.61 ? 'P' : ''", "grid": false, "domain": false, "tickSize": 5, "tickColor": {"condition": {"test": "datum.value > 4.4", "value": "#e0906e"}, "value": "#222"}, "labelColor": {"condition": {"test": "datum.value > 5", "value": "#e8301c"}, "value": "#111"}, "labelFontSize": 19, "labelFontWeight": "bold", "labelPadding": 5, "titleFontSize": 20, "titleFontWeight": "bold", "titleColor": "#111", "titlePadding": 4}},
            "y": {"field": "v", "type": "quantitative", "scale": {"domain": [0, 0.28, 0.5, 1], "range": [305, 38, 18, 0], "nice": false, "zero": false}, "axis": {"orient": "right", "title": null, "values": [0, 0.02, 0.04, 0.06, 0.08, 0.1, 0.12, 0.14, 0.16, 0.18, 0.2, 0.22, 0.24, 0.26, 0.28, 0.5, 1], "labelExpr": "datum.value==1 ? '1' : datum.value==0 ? '0' : datum.value==0.5 ? '0.50' : (round(datum.value*100)%4 != 0 ? '' : format(datum.value, '.2f'))", "grid": false, "domainColor": "#b5653a", "domainWidth": 1.5, "tickColor": "#b5653a", "tickSize": 5, "labelPadding": 4, "labelFontSize": 15, "labelFontWeight": "bold", "labelColor": "#a0301e"}},
            "color": {"field": "rmf", "type": "nominal", "legend": null, "scale": {"domain": ["0", "5", "15", "25"], "range": ["#1010f0", "#c8301a", "#17571b", "#a31fd6"]}}
          }
        },
        {
          "data": {"name": "rR"},
          "mark": {"type": "point", "filled": false, "size": 55, "strokeWidth": 1.5, "opacity": 1},
          "encoding": {
            "x": {"field": "pos", "type": "quantitative", "scale": {"domain": [0.5, 7.18], "nice": false, "zero": false}, "title": "Impurity element", "axis": {"values": [1, 1.5, 2, 2.5, 3, 3.5, 4, 4.48, 5.26, 6, 6.61], "labelExpr": "datum.value==1 ? 'Fe' : datum.value==2 ? 'Ti' : datum.value==3 ? 'Ca' : datum.value==4 ? 'Cu' : datum.value==5.26 ? 'B' : datum.value==6.61 ? 'P' : ''", "grid": false, "domain": false, "tickSize": 5, "tickColor": {"condition": {"test": "datum.value > 4.4", "value": "#e0906e"}, "value": "#222"}, "labelColor": {"condition": {"test": "datum.value > 5", "value": "#e8301c"}, "value": "#111"}, "labelFontSize": 19, "labelFontWeight": "bold", "labelPadding": 5, "titleFontSize": 20, "titleFontWeight": "bold", "titleColor": "#111", "titlePadding": 4}},
            "y": {"field": "v", "type": "quantitative", "scale": {"domain": [0, 0.28, 0.5, 1], "range": [305, 38, 18, 0], "nice": false, "zero": false}, "axis": {"orient": "right", "title": null, "values": [0, 0.02, 0.04, 0.06, 0.08, 0.1, 0.12, 0.14, 0.16, 0.18, 0.2, 0.22, 0.24, 0.26, 0.28, 0.5, 1], "labelExpr": "datum.value==1 ? '1' : datum.value==0 ? '0' : datum.value==0.5 ? '0.50' : (round(datum.value*100)%4 != 0 ? '' : format(datum.value, '.2f'))", "grid": false, "domainColor": "#b5653a", "domainWidth": 1.5, "tickColor": "#b5653a", "tickSize": 5, "labelPadding": 4, "labelFontSize": 15, "labelFontWeight": "bold", "labelColor": "#a0301e"}},
            "shape": {"field": "m", "type": "nominal", "legend": null, "scale": {"domain": ["35k", "35r", "36k", "36r", "32k", "34k", "14", "9", "31", "15", "16", "11", "33", "38"], "range": ["M-0.7,0A0.7,0.7 0 1,1 0.7,0A0.7,0.7 0 1,1 -0.7,0ZM0,-1L0,1", "M-0.7,0A0.7,0.7 0 1,1 0.7,0A0.7,0.7 0 1,1 -0.7,0ZM0,-1L0,1", "M-0.9,-0.7L0.9,0.7M-0.9,0.7L0.9,-0.7", "M-0.9,-0.7L0.9,0.7M-0.9,0.7L0.9,-0.7", "M-0.7,0A0.7,0.7 0 1,1 0.7,0A0.7,0.7 0 1,1 -0.7,0ZM-1,0L1,0", "M-1,-0.8L1,0.8M-1,0.8L1,-0.8M-1,-0.8L-1,0.8M1,-0.8L1,0.8", "triangle-down", "M-0.8,-1L0.8,-1L0,0ZM-0.8,1L0.8,1L0,0Z", "M-0.7,0A0.7,0.7 0 1,1 0.7,0A0.7,0.7 0 1,1 -0.7,0ZM-1,0L1,0M0,-1L0,1", "triangle-up", "circle", "M0,-1L0.235,-0.324L0.951,-0.309L0.38,0.124L0.588,0.809L0,0.4L-0.588,0.809L-0.38,0.124L-0.951,-0.309L-0.235,-0.324Z", "M-0.3,-1L0.3,-1L0.3,-0.3L1,-0.3L1,0.3L0.3,0.3L0.3,1L-0.3,1L-0.3,0.3L-1,0.3L-1,-0.3L-0.3,-0.3Z", "M-1,-0.35L1,-0.35M-1,0.35L1,0.35M-0.35,-1L-0.35,1M0.35,-1L0.35,1"]}},
            "stroke": {"field": "m", "type": "nominal", "legend": null, "scale": {"domain": ["35k", "35r", "36k", "36r", "32k", "34k", "14", "9", "31", "15", "16", "11", "33", "38"], "range": ["#111", "#e0552a", "#111", "#e0402a", "#111", "#111", "#8b4a1e", "#c8503a", "#d2782a", "#8b4a1e", "#a0522d", "#8b4a1e", "#e02a1a", "#e02a1a"]}},
            "fill": {"field": "m", "type": "nominal", "legend": null, "scale": {"domain": ["35k", "35r", "36k", "36r", "32k", "34k", "14", "9", "31", "15", "16", "11", "33", "38", "g", "bl", "pk", "or", "Without RMF", "5 mT RMF", "15 mT RMF", "25 mT RMF"], "range": ["transparent", "transparent", "transparent", "transparent", "transparent", "transparent", "#8b4a1e", "#c8503a", "transparent", "#8b4a1e", "transparent", "#8b4a1e", "#e02a1a", "transparent", "#bdf0dc", "#cdd6ff", "#f6cdf0", "#fbd9c0", "#1a1adf", "#b8321e", "#2a8a2a", "#8a2a90"]}}
          }
        }
      ]
    }
  ]
}
